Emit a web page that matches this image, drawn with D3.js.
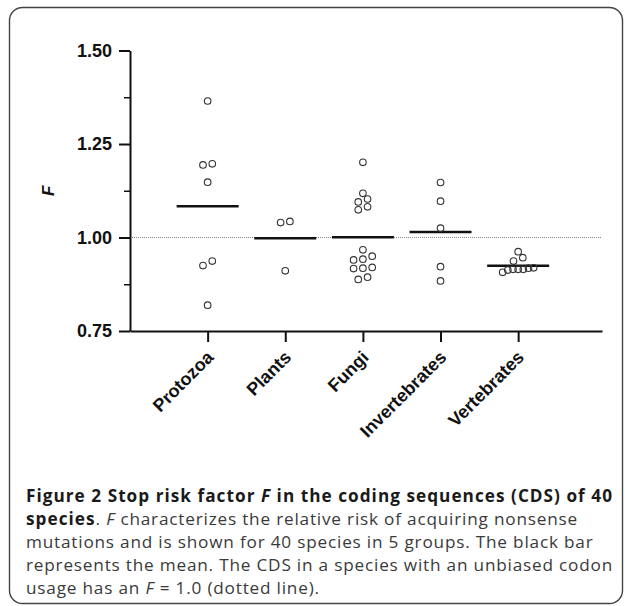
<!DOCTYPE html>
<html>
<head>
<meta charset="utf-8">
<script src="https://cdn.jsdelivr.net/npm/d3@7"></script>
<style>
body{margin:0;background:#fff}
</style>
</head>
<body>
<div id="chart"></div>
<script>
// data
const categories=["Protozoa","Plants","Fungi","Invertebrates","Vertebrates"]
const protozoa=[1.365,1.197,1.194,1.148,0.937,0.925,0.819]
const plants=[1.043,1.040,0.911]
const fungi=[1.201,1.118,1.103,1.095,1.082,1.074,0.967,0.950,0.942,0.940,0.920,0.918,0.917,0.894,0.888]
const invertebrates=[1.147,1.097,1.025,0.922,0.884]
const vertebrates=[0.962,0.946,0.937,0.919,0.918,0.915,0.915,0.915,0.913,0.907]
const yTicks=[0.75,1.00,1.25,1.50]
const yMinorTicks=[0.875,1.125,1.375]
const referenceValue=1.0

const groups=[protozoa,plants,fungi,invertebrates,vertebrates]

const width=625,height=606
const axisFont="'Liberation Sans',Arial,sans-serif"
const svg=d3.select("#chart").append("svg")
	.attr("width",width)
	.attr("height",height)

// frame round the figure
svg.append("rect")
	.attr("x",9.5).attr("y",7.5)
	.attr("width",613).attr("height",596)
	.attr("rx",13).attr("ry",13)
	.attr("fill","none")
	.attr("stroke","#444")
	.attr("stroke-width",1.4)

let x=d3.scaleLinear().domain([-1,5.08]).range([130,602])
let y=d3.scaleLinear().domain([0.75,1.5]).range([331,50.5])

// dotted line at F = 1
svg.append("line")
	.attr("x1",x(-1)).attr("x2",x(5.08))
	.attr("y1",y(referenceValue)).attr("y2",y(referenceValue))
	.attr("stroke","#888")
	.attr("stroke-width",1)
	.attr("stroke-dasharray","1,1")

// y axis
let yAxis=svg.append("g")
	.attr("transform",`translate(${x(-1)},0)`)
	.call(d3.axisLeft(y).tickValues(yTicks).tickFormat(d3.format(".2f")).tickSize(11).tickSizeOuter(0).tickPadding(7))
yAxis.attr("font-family",axisFont)
yAxis.selectAll("text")
	.style("font-size","18px")
	.style("font-weight","bold")
	.attr("fill","#111")
yAxis.select(".domain").attr("stroke","#111").attr("stroke-width",2)
yAxis.selectAll(".tick line").attr("stroke","#111").attr("stroke-width",2)

let yMinor=svg.append("g")
	.attr("transform",`translate(${x(-1)},0)`)
	.call(d3.axisLeft(y).tickValues(yMinorTicks).tickFormat("").tickSize(6).tickSizeOuter(0))
yMinor.select(".domain").remove()
yMinor.selectAll(".tick line").attr("stroke","#111").attr("stroke-width",1.5)

// x axis
let xAxis=svg.append("g")
	.attr("transform",`translate(0,${y(0.75)})`)
	.call(d3.axisBottom(x).tickValues(d3.range(categories.length)).tickFormat(i=>categories[i]).tickSize(11).tickSizeOuter(0))
xAxis.attr("font-family",axisFont)
xAxis.select(".domain").attr("stroke","#111").attr("stroke-width",2)
xAxis.selectAll(".tick line").attr("stroke","#111").attr("stroke-width",2)
xAxis.selectAll("text")
	.style("font-size","18px")
	.style("font-weight","bold")
	.attr("fill","#111")
	.attr("text-anchor","end")
	.attr("dy","0.35em")
	.attr("y",0)
	.attr("transform","translate(2,23) rotate(-45)")

// axis title
svg.append("text")
	.attr("transform",`translate(54,${y(1.125)}) rotate(-90)`)
	.attr("text-anchor","middle")
	.attr("font-family",axisFont)
	.style("font-size","17px")
	.style("font-weight","bold")
	.style("font-style","italic")
	.attr("fill","#111")
	.text("F")

// scatter: values close together share a row, spread symmetrically
let rowGap=0.013
let spacing=9.3
let maxSpan=31
let points=[]
groups.forEach((values,gi)=>{
	let sorted=values.slice().sort((a,b)=>b-a)
	let rows=[]
	sorted.forEach(v=>{
		let last=rows[rows.length-1]
		if(last && last[0]-v<=rowGap) last.push(v)
		else rows.push([v])
	})
	rows.forEach(row=>{
		row.sort((a,b)=>a-b)
		let n=row.length
		let step=n>1?Math.min(spacing,maxSpan/(n-1)):0
		row.forEach((v,k)=>{
			points.push({g:gi,v:v,dx:(k-(n-1)/2)*step})
		})
	})
})

// mean bars
svg.selectAll(".mean")
	.data(groups)
	.join("line")
	.attr("class","mean")
	.attr("x1",(d,i)=>x(i)-31)
	.attr("x2",(d,i)=>x(i)+31)
	.attr("y1",d=>y(d3.mean(d)))
	.attr("y2",d=>y(d3.mean(d)))
	.attr("stroke","#111")
	.attr("stroke-width",2.5)

svg.selectAll(".pt")
	.data(points)
	.join("circle")
	.attr("class","pt")
	.attr("cx",d=>x(d.g)+d.dx)
	.attr("cy",d=>y(d.v))
	.attr("r",3.3)
	.attr("fill","none")
	.attr("stroke","#333")
	.attr("stroke-width",1.1)

// caption
const captionLines=[
	[["Figure 2 Stop risk factor ","bold"],["F","bold italic"],[" in the coding sequences (CDS) of 40","bold"]],
	[["species","bold"],[". ",""],["F","italic"],[" characterizes the relative risk of acquiring nonsense",""]],
	[["mutations and is shown for 40 species in 5 groups. The black bar",""]],
	[["represents the mean. The CDS in a species with an unbiased codon",""]],
	[["usage has an ",""],["F","italic"],[" = 1.0 (dotted line).",""]]
]
let cap=svg.append("g")
	.attr("font-family","'Open Sans','Noto Sans',sans-serif")
	.style("font-size","17.2px")
let capText=[]
captionLines.forEach((parts,li)=>{
	let t=cap.append("text").attr("x",26).attr("y",502+li*23)
	parts.forEach(p=>{
		t.append("tspan")
			.text(p[0])
			.attr("class",p[1].includes("bold")?"cb":"cn")
			.style("font-weight",p[1].includes("bold")?"bold":"normal")
			.style("font-style",p[1].includes("italic")?"italic":"normal")
			.attr("fill",p[1].includes("bold")?"#1a1a1a":"#3a3a3a")
	})
	capText.push(t)
})
// widen the tracking so the full lines reach the right edge like the original
let capWidth=613-26
let boldLine=captionLines[0].map(p=>p[0]).join("")
let normLine=captionLines[3].map(p=>p[0]).join("")
let boldSpacing=Math.max(0,(capWidth-capText[0].node().getComputedTextLength())/boldLine.length)
let normSpacing=Math.max(0,(capWidth-capText[3].node().getComputedTextLength())/normLine.length)
cap.selectAll(".cb").style("letter-spacing",boldSpacing+"px")
cap.selectAll(".cn").style("letter-spacing",normSpacing+"px")
</script>
</body>
</html>
